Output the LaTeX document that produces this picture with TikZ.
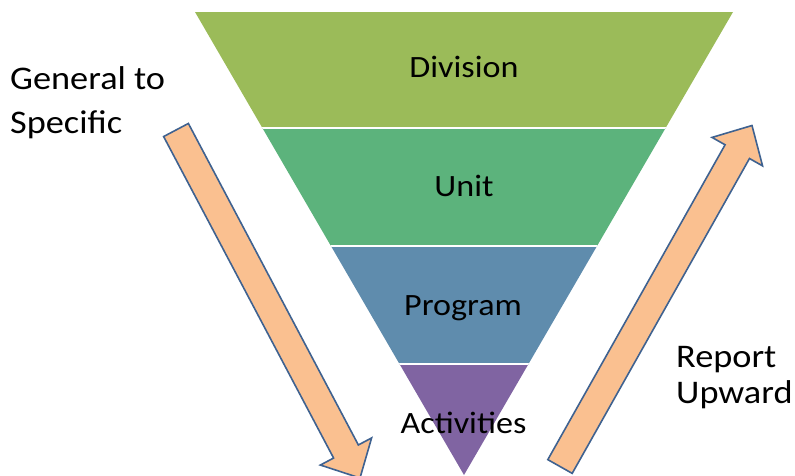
\documentclass[tikz,border=0pt]{standalone}
\usepackage{fontspec}
\setmainfont[FakeStretch=1.1]{Carlito}
\usetikzlibrary{calc}
\definecolor{cDiv}{HTML}{9BBB59}
\definecolor{cUnit}{HTML}{5CB37C}
\definecolor{cProg}{HTML}{5F8CAD}
\definecolor{cAct}{HTML}{8064A2}
\definecolor{cArrFill}{HTML}{FAC090}
\definecolor{cArrLine}{HTML}{3F6290}
\tikzset{
  band/.style={inner sep=0pt, anchor=base, font=\fontsize{31}{36}\selectfont},
  side/.style={inner sep=0pt, anchor=base west, font=\fontsize{33}{40}\selectfont},
  bigarrow/.style={fill=cArrFill, draw=cArrLine, line width=1.6pt, line join=miter},
  sep/.style={draw=white, line width=2pt}
}
\begin{document}
\begin{tikzpicture}[x=1pt,y=-1pt]
\useasboundingbox (0,0) rectangle (795,475);
\clip (0,0) rectangle (795,475);
% funnel
\begin{scope}
  \clip (195,12) -- (733,12) -- (464,475) -- cycle;
  \fill[cDiv]  (150,0)   rectangle (780,128);
  \fill[cUnit] (150,128) rectangle (780,246);
  \fill[cProg] (150,246) rectangle (780,364);
  \fill[cAct]  (150,364) rectangle (780,480);
  \draw[sep] (150,128) -- (780,128);
  \draw[sep] (150,246) -- (780,246);
  \draw[sep] (150,364) -- (780,364);
\end{scope}
\node[band] (div) at (464,77) {Division};
\node[band] (unit) at (464,196) {Unit};
\node[band] (prog) at (463,315) {Program};
\node[band] (act) at (463.5,433) {Activities};
% left arrow
\coordinate (LT) at (176,130);
\coordinate (LP) at (360,478);
\coordinate (LH) at ($(LP)!30pt!(LT)$);
\draw[bigarrow] ($(LT)!14pt!90:(LP)$) -- ($(LH)!14pt!-90:(LT)$) -- ($(LH)!29pt!-90:(LT)$) -- (LP)
  -- ($(LH)!29pt!90:(LT)$) -- ($(LH)!14pt!90:(LT)$) -- ($(LT)!14pt!-90:(LP)$) -- cycle;
% right arrow
\coordinate (RT) at (560,466.5);
\coordinate (RP) at (752,125.5);
\coordinate (RH) at ($(RP)!30pt!(RT)$);
\draw[bigarrow] ($(RT)!14pt!90:(RP)$) -- ($(RH)!14pt!-90:(RT)$) -- ($(RH)!29pt!-90:(RT)$) -- (RP)
  -- ($(RH)!29pt!90:(RT)$) -- ($(RH)!14pt!90:(RT)$) -- ($(RT)!14pt!-90:(RP)$) -- cycle;
% side labels
\node[side] (gen) at (10,89) {General to};
\node[side] (spec) at (10,133) {Specific};
\node[side] (rep) at (676,367) {Report};
\node[side] (up) at (676,403) {Upward};
\end{tikzpicture}
\end{document}
